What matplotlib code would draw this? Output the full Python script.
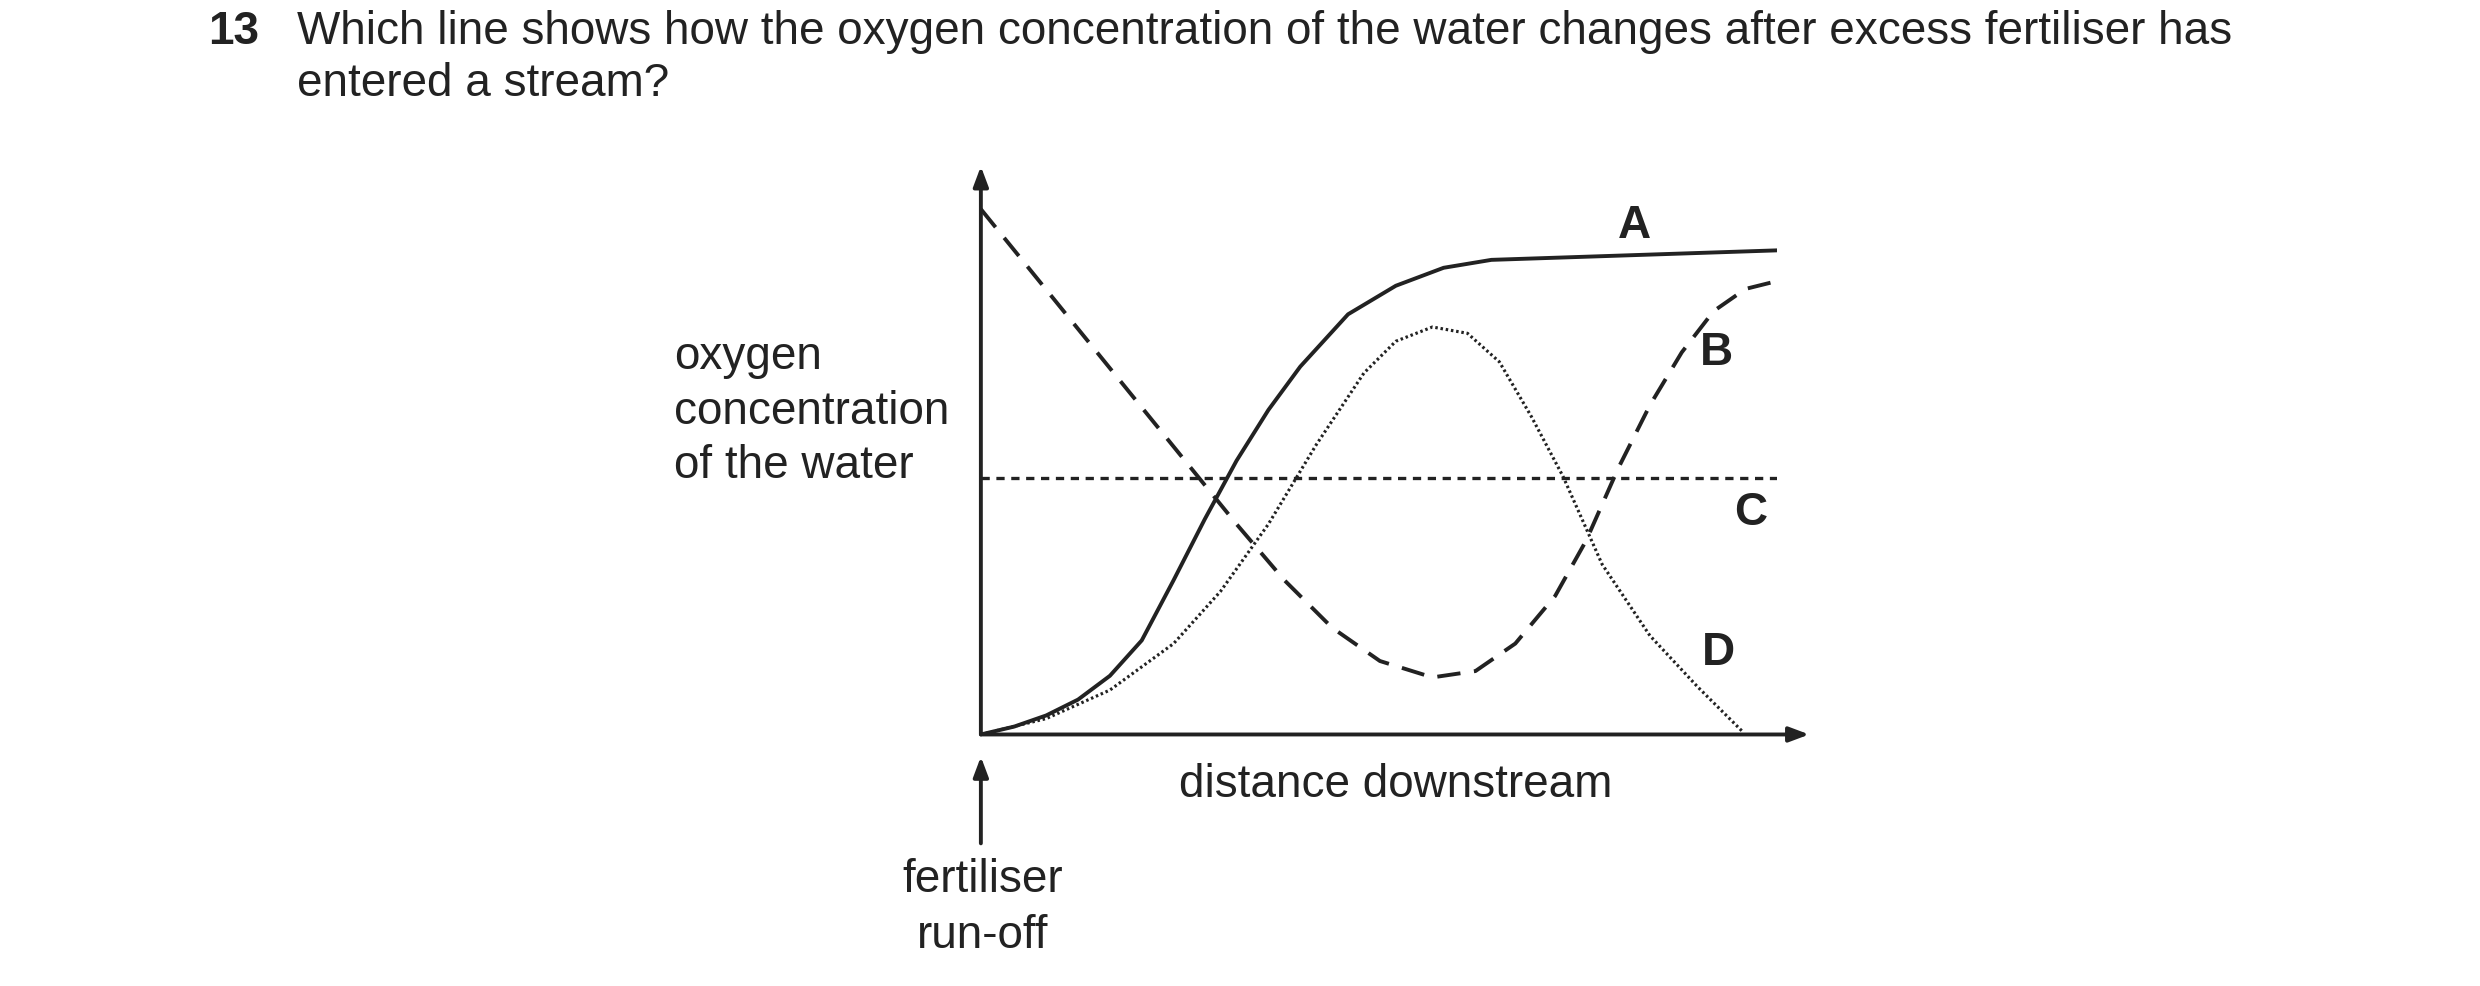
import matplotlib
matplotlib.use("Agg")
import matplotlib.pyplot as plt

plt.rcParams['font.family'] = ['Liberation Sans', 'DejaVu Sans']

a_x = [0, 0.42, 0.82, 1.22, 1.62, 2.02, 2.42, 2.81, 3.21, 3.61, 4.01, 4.61, 5.21, 5.81, 6.41, 10.0]
a_y = [0, 0.15, 0.36, 0.66, 1.11, 1.78, 2.92, 4.07, 5.18, 6.14, 6.96, 7.95, 8.49, 8.83, 8.98, 9.16]
b_x = [0, 1.62, 3.21, 3.81, 4.41, 5.01, 5.67, 6.21, 6.71, 7.21, 7.60, 8.00, 8.40, 8.80, 9.20, 9.60, 10.0]
b_y = [9.94, 6.93, 3.98, 2.92, 2.02, 1.39, 1.08, 1.20, 1.72, 2.62, 3.67, 5.03, 6.23, 7.23, 8.01, 8.43, 8.58]
c_x = [0, 10.0]
c_y = [4.85, 4.85]
d_x = [0, 0.82, 1.62, 2.42, 3.01, 3.61, 4.21, 4.81, 5.21, 5.67, 6.11, 6.51, 6.91, 7.31, 7.80, 8.40, 9.00, 9.56]
d_y = [0, 0.30, 0.84, 1.72, 2.71, 3.98, 5.48, 6.84, 7.44, 7.71, 7.59, 7.05, 6.02, 4.88, 3.22, 1.87, 0.90, 0.06]

W, H = 1560, 620
fig = plt.figure(figsize=(24.8, 9.87), dpi=100)
ax = fig.add_axes([617/W, 1-462/H, 501/W, 332/H])
ax.set_xlim(0, 10); ax.set_ylim(0, 10); ax.axis('off')
lw = 2.8
ax.plot(a_x, a_y, color='#222', lw=lw, solid_joinstyle='round')
ax.plot(b_x, b_y, color='#222', lw=lw, dashes=(6, 3.5), dash_joinstyle='round')
ax.plot(c_x, c_y, color='#222', lw=lw*0.85, dashes=(2.5, 2))
ax.plot(d_x, d_y, color='#222', lw=lw*0.8, dashes=(0.8, 0.9))
ap = dict(arrowstyle='-|>,head_length=1.2,head_width=0.45', color='#222', lw=lw, shrinkA=0, shrinkB=0)
ax.annotate('', xy=(0, 10.75), xytext=(0, 0), arrowprops=ap, annotation_clip=False)
ax.annotate('', xy=(10.4, 0), xytext=(0, 0), arrowprops=ap, annotation_clip=False)
ax.annotate('', xy=(0, -0.42), xytext=(0, -2.06), arrowprops=ap, annotation_clip=False)

def T(x, y, s, **kw):
    fig.text(x/W, 1-y/H, s, va='center', color='#222', **kw)

fs = 33
T(131, 20, '13', fontsize=fs, fontweight='bold')
T(187, 20, 'Which line shows how the oxygen concentration of the water changes after excess fertiliser has', fontsize=fs)
T(187, 53, 'entered a stream?', fontsize=fs)
for i, s in enumerate(['oxygen', 'concentration', 'of the water']):
    T(424, 224 + 34.5*i, s, fontsize=fs)
T(878, 493, 'distance downstream', fontsize=fs, ha='center')
T(618, 553, 'fertiliser', fontsize=fs, ha='center')
T(618, 588, 'run-off', fontsize=fs, ha='center')
for s, x, y in [('A', 1028, 142), ('B', 1080, 222), ('C', 1101, 322), ('D', 1081, 410)]:
    T(x, y, s, fontsize=fs, fontweight='bold', ha='center')
fig.savefig('out.png', dpi=100)
